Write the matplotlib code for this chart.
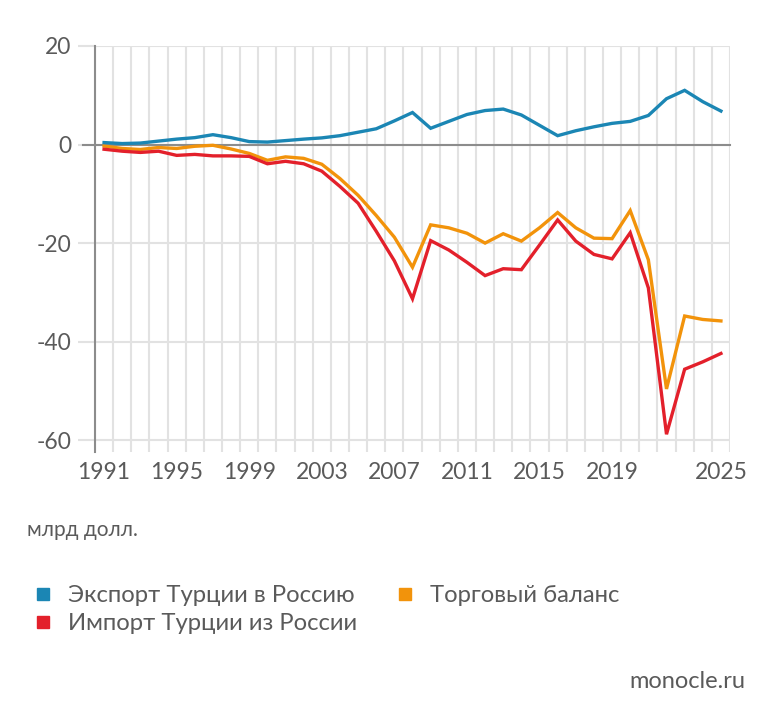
import matplotlib
matplotlib.use("Agg")
import matplotlib.pyplot as plt
from matplotlib.lines import Line2D
from matplotlib.ticker import FixedLocator

plt.rcParams['font.family'] = ['Lato', 'DejaVu Sans']
plt.rcParams['axes.unicode_minus'] = False

years = list(range(1991, 2026))
export = [0.4, 0.2, 0.3, 0.7, 1.1, 1.4, 2.0, 1.4, 0.6, 0.5, 0.8, 1.1, 1.35, 1.8, 2.5, 3.2,
          4.8, 6.5, 3.3, 4.7, 6.1, 6.9, 7.2, 6.0, 3.9, 1.8, 2.8, 3.6, 4.3, 4.7, 5.9,
          9.3, 11.0, 8.7, 6.8]
imports = [-0.95, -1.35, -1.6, -1.35, -2.2, -2.0, -2.3, -2.3, -2.4, -3.9, -3.4, -3.9, -5.4,
           -8.5, -11.9, -17.6, -23.6, -31.3, -19.5, -21.4, -23.9, -26.6, -25.2, -25.4,
           -20.4, -15.3, -19.6, -22.3, -23.2, -17.9, -29.1, -58.8, -45.6, -44.1, -42.4]
balance = [-0.3, -0.8, -1.0, -0.6, -0.8, -0.35, -0.15, -0.9, -1.8, -3.2, -2.5, -2.8, -4.0,
           -6.9, -10.3, -14.4, -18.8, -24.9, -16.3, -16.9, -18.0, -20.0, -18.1, -19.6,
           -16.9, -13.8, -16.9, -19.0, -19.1, -13.4, -23.4, -49.6, -34.8, -35.5, -35.8]
xtick_years = [1991, 1995, 1999, 2003, 2007, 2011, 2015, 2019, 2025]
yticks = [-60, -40, -20, 0, 20]
labels = ['Экспорт Турции в Россию', 'Импорт Турции из России', 'Торговый баланс']

c_blue = '#1b86b4'
c_red = '#e3202b'
c_orange = '#f2930b'
txt = '#5a5a5a'
grid_c = '#e2e2e2'

fig = plt.figure(figsize=(7.84, 7.28), dpi=100)
ax = fig.add_axes([95 / 784, 1 - 452 / 728, 635 / 784, 406 / 728])

ax.plot(years, balance, color=c_orange, lw=2.4, zorder=3, solid_joinstyle='miter')
ax.plot(years, imports, color=c_red, lw=2.4, zorder=4, solid_joinstyle='miter')
ax.plot(years, export, color=c_blue, lw=2.4, zorder=5, solid_joinstyle='miter')

ax.set_xlim(1990.5, 2025.5)
ax.set_ylim(-62.4, 20)

ax.set_xticks(xtick_years)
ax.xaxis.set_minor_locator(FixedLocator([y + 0.5 for y in range(1990, 2026)]))
ax.set_yticks(yticks)
ax.grid(axis='x', which='minor', color=grid_c, lw=1.5, zorder=1)
ax.grid(axis='y', which='major', color=grid_c, lw=1.5, zorder=1)
ax.tick_params(axis='x', which='both', length=0, pad=7, labelsize=16.5, labelcolor=txt)
ax.tick_params(axis='y', length=12, width=1.5, color=grid_c, pad=5, labelsize=16.5, labelcolor=txt)

for s in ['top', 'right', 'bottom']:
    ax.spines[s].set_visible(False)
ax.spines['left'].set_color('#8c8c8c')
ax.spines['left'].set_linewidth(1.5)
ax.axhline(0, xmin=-12 / 635, xmax=1, color='#8c8c8c', lw=1.5, zorder=2, clip_on=False)

fig.text(27 / 784, 1 - 530 / 728, 'млрд долл.', fontsize=15, color=txt, va='center')

handles = [Line2D([], [], ls='none', marker='s', ms=8.5, color=c) for c in [c_blue, c_red, c_orange]]
fig.legend(handles, labels, ncol=2, loc='upper left', bbox_to_anchor=(24 / 784, 1 - 573 / 728),
           frameon=False, fontsize=17.2, labelcolor=txt, handlelength=0.6, handletextpad=0.75,
           columnspacing=1.7, labelspacing=0.3, borderpad=0)

fig.text(745 / 784, 1 - 682 / 728, 'monocle.ru', fontsize=17, color=txt, ha='right', va='center')

fig.savefig('out.png', dpi=100)
